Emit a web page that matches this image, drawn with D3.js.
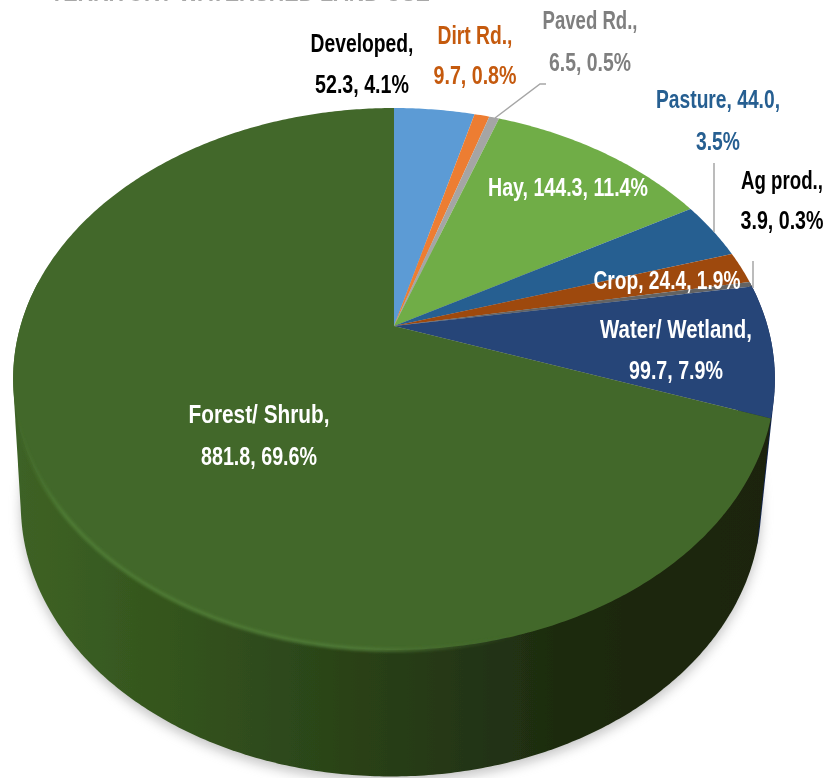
<!DOCTYPE html>
<html>
<head>
  <meta charset="utf-8">
  <script src="https://d3js.org/d3.v7.min.js"></script>
  <style>
    body { margin: 0; background: #fff; }
    text { font-family: "Liberation Sans", sans-serif; font-weight: bold; text-anchor: middle; }
  </style>
</head>
<body>
  <script type="text/javascript">
  var chartTitle = "TERRITORY WATERSHED LAND USE";
  var categories = ["Developed", "Dirt Rd.", "Paved Rd.", "Hay", "Pasture", "Crop", "Ag prod.", "Water/ Wetland", "Forest/ Shrub"];
  var areas = [52.3, 9.7, 6.5, 144.3, 44.0, 24.4, 3.9, 99.7, 881.8];
  var percents = [4.1, 0.8, 0.5, 11.4, 3.5, 1.9, 0.3, 7.9, 69.6];

  var colors = ["#5B9BD5", "#ED7D31", "#A5A5A5", "#70AD47", "#255E91", "#9E480E", "#636363", "#264478", "#43682B"];

  //label placement: centre x, centre y of first row, row gap, row widths (the font is squeezed to fit)
  var labelLayout = [
    {x: 362, y: 43, gap: 41, w: [103, 94], fill: "#000"},
    {x: 475, y: 35, gap: 40, w: [75, 83], fill: "#C55A11"},
    {x: 590, y: 20, gap: 42, w: [95, 82], fill: "#7F7F7F"},
    {x: 568, y: 187, gap: 0, w: [160], fill: "#fff"},
    {x: 718, y: 99, gap: 42, w: [124, 44], fill: "#255E91", breakAfterValue: true},
    {x: 667, y: 280, gap: 0, w: [147], fill: "#fff"},
    {x: 782, y: 180, gap: 40, w: [82, 83], fill: "#000"},
    {x: 676, y: 329, gap: 41, w: [152, 94], fill: "#fff"},
    {x: 259, y: 414, gap: 42, w: [141, 116], fill: "#fff"}
  ];

  var width = 826, height = 778;

  var svg = d3.select("body").append("svg")
      .attr("width", width)
      .attr("height", height);

  var defs = svg.append("defs");

  function addBlur(id, dev) {
    defs.append("filter")
        .attr("id", id)
        .attr("x", "-10%").attr("y", "-10%")
        .attr("width", "120%").attr("height", "120%")
        .append("feGaussianBlur")
        .attr("stdDeviation", dev);
  }
  addBlur("shadowBlur", 6);
  addBlur("rimBlur", 1.5);
  addBlur("textBlur", 0.45);
  addBlur("faceBlur", 0.5);

  //Horizontal shading on the outside wall of the big slice
  var wallGrad = defs.append("linearGradient")
      .attr("id", "wallGrad")
      .attr("gradientUnits", "userSpaceOnUse")
      .attr("x1", 20).attr("x2", 775).attr("y1", 0).attr("y2", 0);
  [[0, "#3E6225"], [0.15, "#36581F"], [0.4, "#2B4519"], [0.55, "#263915"], [0.72, "#1D2B10"], [0.85, "#1B260F"], [1, "#1A240E"]]
    .forEach(function(s) {
      wallGrad.append("stop").attr("offset", s[0]).attr("stop-color", s[1]);
    });

  var rimGrad = defs.append("linearGradient")
      .attr("id", "rimGrad")
      .attr("gradientUnits", "userSpaceOnUse")
      .attr("x1", 15).attr("x2", 520).attr("y1", 0).attr("y2", 0);
  rimGrad.append("stop").attr("offset", 0).attr("stop-color", "#4F7D35").attr("stop-opacity", 0);
  rimGrad.append("stop").attr("offset", 0.1).attr("stop-color", "#4F7D35");
  rimGrad.append("stop").attr("offset", 0.7).attr("stop-color", "#507A37");
  rimGrad.append("stop").attr("offset", 1).attr("stop-color", "#43682B").attr("stop-opacity", 0);

  //Tilted discs: angle on the pie -> picture position, with perspective
  var persp = -0.1956;
  var topDisc = {cx: 394, cy: 326, a: 260.6, d: 373.5};
  var baseDisc = {cx: 391, cy: 452, a: 261, d: 363};

  function project(disc, angle) {
    var u = Math.sin(angle), v = -Math.cos(angle);
    var w = 1 + persp * v;
    return [disc.cx + disc.d * u / w, disc.cy + disc.a * v / w];
  }

  function arcPoints(disc, start, end) {
    var n = Math.max(2, Math.ceil((end - start) / 0.01));
    return d3.range(n + 1).map(function(i) {
      return project(disc, start + (end - start) * i / n);
    });
  }

  var line = d3.line();
  var full = Math.PI * 2;
  var wallFrom = 80 * Math.PI / 180, wallTo = 280 * Math.PI / 180;

  var slices = d3.pie().sort(null)(areas);

  //Ground shadow
  svg.append("path")
      .attr("d", line(arcPoints(baseDisc, 0, full)) + "Z")
      .attr("transform", "translate(0,5)")
      .attr("fill", "#8a8a8a")
      .attr("opacity", 0.5)
      .attr("filter", "url(#shadowBlur)");

  //Outside wall, only the part facing us. Hull closes the gap between the two rims.
  svg.append("g").attr("filter", "url(#faceBlur)").selectAll("path")
      .data(slices.filter(function(d) { return d.endAngle > wallFrom && d.startAngle < wallTo; }))
      .enter().append("path")
      .attr("d", function(d) {
        var s = Math.max(d.startAngle, wallFrom), e = Math.min(d.endAngle, wallTo);
        return line(d3.polygonHull(arcPoints(topDisc, s, e).concat(arcPoints(baseDisc, s, e)))) + "Z";
      })
      .attr("fill", function(d) {
        return d.index == 8 ? "url(#wallGrad)" : "#10234F";
      });

  //Top face
  svg.append("g").attr("filter", "url(#faceBlur)").selectAll("path")
      .data(slices)
      .enter().append("path")
      .attr("d", function(d) {
        return line([[topDisc.cx, topDisc.cy]].concat(arcPoints(topDisc, d.startAngle, d.endAngle))) + "Z";
      })
      .attr("fill", function(d) { return colors[d.index]; });

  //Light bevel along the front edge
  svg.append("path")
      .attr("d", line(arcPoints(topDisc, 160 * Math.PI / 180, 250 * Math.PI / 180)))
      .attr("fill", "none")
      .attr("stroke", "url(#rimGrad)")
      .attr("stroke-width", 3.5)
      .attr("filter", "url(#rimBlur)");

  //Leader lines
  var leaders = [
    [[495, 118], [540, 84], [546, 84]],
    [[714, 163], [714, 232]],
    [[753, 261], [753, 288]]
  ];
  svg.append("g").selectAll("path")
      .data(leaders)
      .enter().append("path")
      .attr("d", line)
      .attr("fill", "none")
      .attr("stroke", "#A6A6A6")
      .attr("stroke-width", 1.5);

  //Squeeze a text sideways to the width it has in the picture
  function squeeze(sel, x, y, w) {
    var natural = sel.node().getComputedTextLength();
    sel.attr("transform", "translate(" + x + "," + y + ") scale(" + (w / natural) + ",1)");
  }

  //Cut-off title at the very top
  var title = svg.append("text")
      .attr("font-size", 26)
      .attr("fill", "#A8A8A8")
      .attr("filter", "url(#textBlur)")
      .text(chartTitle);
  squeeze(title, 240, 0.5, 380);

  //Data labels
  var labels = svg.append("g").attr("filter", "url(#textBlur)");
  categories.forEach(function(name, i) {
    var p = labelLayout[i];
    var numbers = areas[i].toFixed(1) + ", " + percents[i] + "%";
    var rows;
    if (p.gap == 0) rows = [name + ", " + numbers];
    else if (p.breakAfterValue) rows = [name + ", " + areas[i].toFixed(1) + ",", percents[i] + "%"];
    else rows = [name + ",", numbers];
    rows.forEach(function(row, r) {
      var t = labels.append("text")
          .attr("dy", "0.35em")
          .attr("font-size", 26)
          .attr("fill", p.fill)
          .text(row);
      squeeze(t, p.x, p.y + r * p.gap, p.w[r]);
    });
  });
  </script>
</body>
</html>
